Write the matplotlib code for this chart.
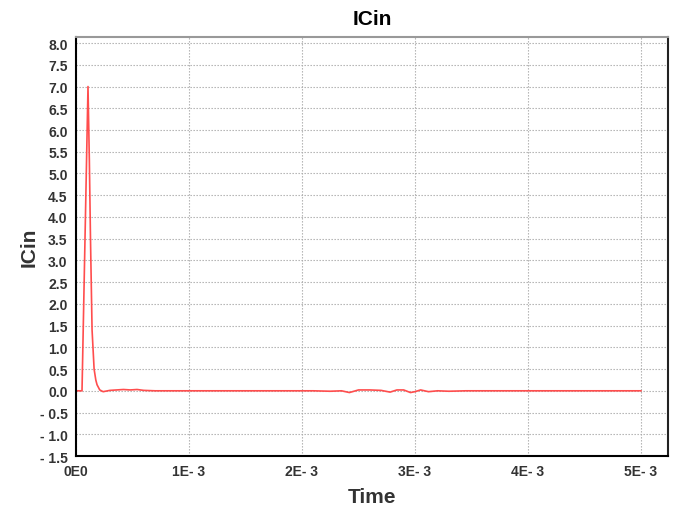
import matplotlib
matplotlib.use('Agg')
import matplotlib.pyplot as plt
import matplotlib.ticker as mticker

plt.rcParams['font.family'] = ['Liberation Sans', 'DejaVu Sans']

# ICin transient (time in s, current)
time = [0.0, 5.3e-5, 1.06e-4, 1.18e-4, 1.28e-4, 1.42e-4, 1.6e-4, 1.75e-4, 1.86e-4,
        2.1e-4, 2.4e-4, 3.0e-4, 3.6e-4, 4.2e-4, 4.8e-4, 5.4e-4, 6.0e-4, 7.0e-4,
        1.0e-3, 1.5e-3, 2.1e-3, 2.25e-3, 2.35e-3, 2.42e-3, 2.5e-3, 2.6e-3, 2.7e-3,
        2.78e-3, 2.84e-3, 2.9e-3, 2.96e-3, 3.0e-3, 3.05e-3, 3.12e-3, 3.2e-3,
        3.3e-3, 3.45e-3, 3.8e-3, 4.3e-3, 5.0e-3]
icin = [0.0, 0.0, 7.0, 5.3, 3.5, 1.4, 0.5, 0.25, 0.14,
        0.02, -0.02, 0.01, 0.02, 0.03, 0.02, 0.03, 0.01, 0.0,
        0.0, 0.0, 0.0, -0.01, 0.0, -0.04, 0.02, 0.02, 0.01,
        -0.03, 0.02, 0.02, -0.04, -0.02, 0.02, -0.02, 0.0,
        -0.01, 0.0, 0.0, 0.0, 0.0]

x_ticks = [0, 1e-3, 2e-3, 3e-3, 4e-3, 5e-3]
x_labels = ['0E0', '1E- 3', '2E- 3', '3E- 3', '4E- 3', '5E- 3']
y_ticks = [-1.5 + 0.5 * i for i in range(20)]

fig = plt.figure(figsize=(6.8, 5.1), dpi=100)
ax = fig.add_axes([0.1118, 0.1039, 0.8706, 0.8216])

ax.plot(time, icin, color='#ff4d4d', linewidth=1.2)

ax.set_xlim(0, 5.24e-3)
ax.set_ylim(-1.5, 8.14)
ax.set_xticks(x_ticks)
ax.set_xticklabels(x_labels)
ax.set_yticks(y_ticks)
ax.yaxis.set_major_formatter(mticker.FuncFormatter(
    lambda v, p: f'- {abs(v):.1f}' if v < -1e-9 else f'{v:.1f}'))
ax.tick_params(length=0, labelsize=10, labelcolor='#333333', pad=6)
for lab in ax.get_xticklabels() + ax.get_yticklabels():
    lab.set_fontweight('bold')

ax.grid(True, color='#aaaaaa', linestyle=(0, (1.2, 1.5)), linewidth=0.8)
ax.set_axisbelow(True)

ax.spines['left'].set_color('black')
ax.spines['bottom'].set_color('black')
ax.spines['right'].set_color('#222222')
ax.spines['top'].set_color('#999999')
for s in ax.spines.values():
    s.set_linewidth(1.5)

fig.text(0.547, 0.962, 'ICin', ha='center', va='center', fontsize=15, fontweight='bold')
ax.set_xlabel('Time', fontsize=15, fontweight='bold', color='#333333', labelpad=6)
ax.set_ylabel('ICin', fontsize=15, fontweight='bold', color='#333333')
ax.yaxis.set_label_coords(-0.064, 0.5)

fig.savefig('out.png', dpi=100)
